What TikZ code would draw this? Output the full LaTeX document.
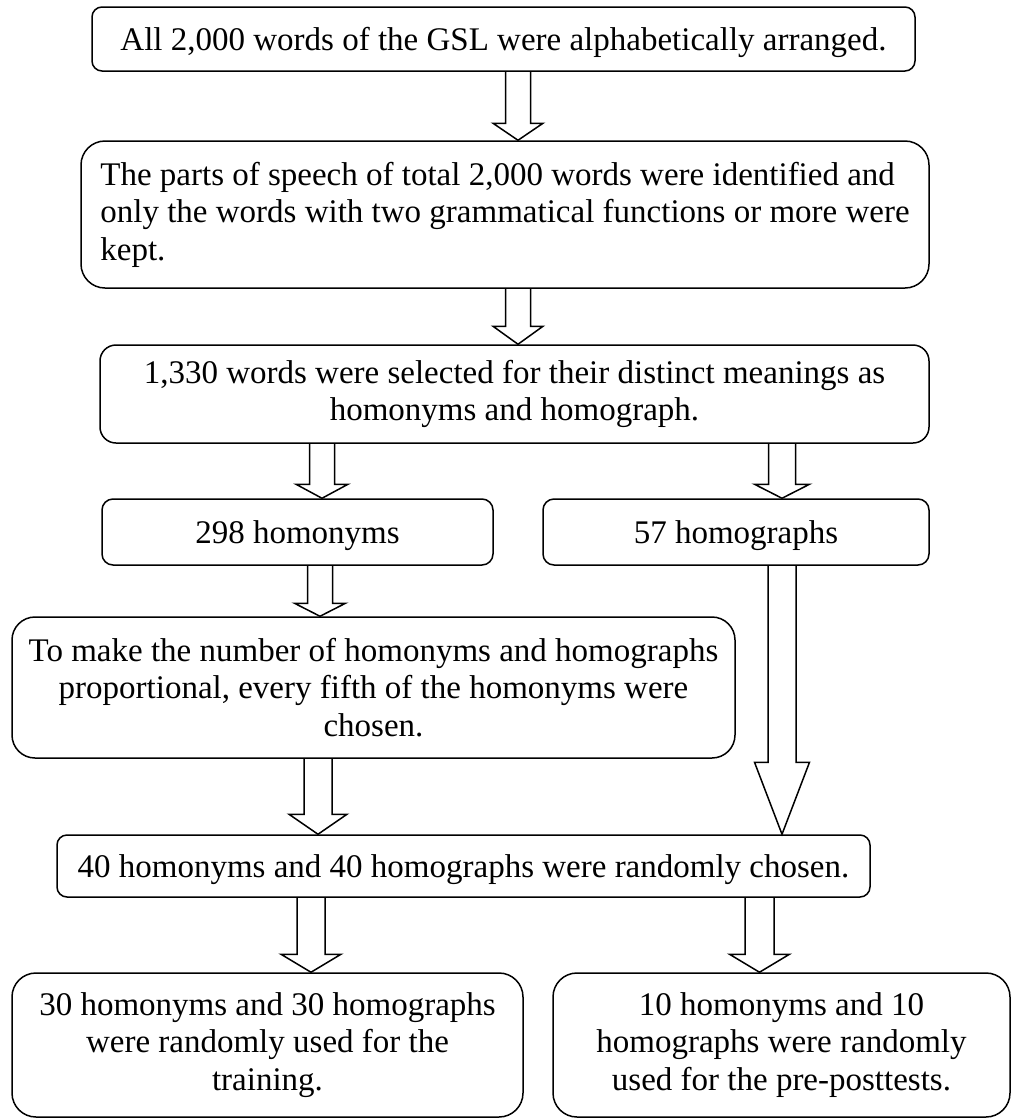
\documentclass[tikz,border=0pt]{standalone}
\usepackage{fontspec}
\setmainfont{Liberation Serif}
\usetikzlibrary{calc}
\tikzset{
  box/.style={draw, line width=1.5pt, inner sep=0pt, align=center,
    font=\fontsize{33}{37.5}\selectfont},
  oneline/.style={text depth=0pt},
  blockarrow/.style={draw, line width=1.5pt, line join=miter},
}
% #1 from node, #2 to node, #3 x centre, #4 shaft half width, #5 head half width, #6 head length
\newcommand\blkarrow[6]{%
  \draw[blockarrow] let \p1=(#1.south), \p2=(#2.north) in
    ({#3pt-#4pt},\y1) -- ({#3pt-#4pt},{\y2+#6pt}) -- ({#3pt-#5pt},{\y2+#6pt})
    -- ({#3pt},\y2) -- ({#3pt+#5pt},{\y2+#6pt}) -- ({#3pt+#4pt},{\y2+#6pt})
    -- ({#3pt+#4pt},\y1);}
\begin{document}
\begin{tikzpicture}[x=1pt,y=-1pt]
\useasboundingbox (0,0) rectangle (1013,1120);
\node[box, oneline, rounded corners=10pt, minimum width=823pt, minimum height=64pt] (b1) at (503.5,39)
  {All 2,000 words of the GSL were alphabetically arranged.};
\node[box, align=left, rounded corners=24pt, minimum width=848pt, minimum height=147pt] (b2) at (505,214.5)
  {The parts of speech of total 2,000 words were identified and\\only the words with two grammatical functions or more were\\kept.};
\node[box, rounded corners=16pt, minimum width=829pt, minimum height=98pt] (b3) at (514.5,394)
  {1,330 words were selected for their distinct meanings as\\homonyms and homograph.};
\node[box, oneline, rounded corners=11pt, minimum width=391pt, minimum height=66pt] (b4) at (297.5,532)
  {298 homonyms};
\node[box, oneline, rounded corners=11pt, minimum width=386pt, minimum height=66pt] (b5) at (736,532)
  {57 homographs};
\node[box, rounded corners=23pt, minimum width=723pt, minimum height=141pt] (b6) at (373.5,687.5)
  {To make the number of homonyms and homographs\\proportional, every fifth of the homonyms were\\chosen.};
\node[box, oneline, rounded corners=10pt, minimum width=813pt, minimum height=62pt] (b7) at (463.5,866)
  {40 homonyms and 40 homographs were randomly chosen.};
\node[box, rounded corners=24pt, minimum width=511pt, minimum height=144pt] (b8) at (267.5,1045)
  {30 homonyms and 30 homographs\\were randomly used for the\\training.};
\node[box, rounded corners=24pt, minimum width=457pt, minimum height=144pt] (b9) at (781.5,1045)
  {10 homonyms and 10\\homographs were randomly\\used for the pre-posttests.};
\blkarrow{b1}{b2}{518}{12.5}{25}{17}
\blkarrow{b2}{b3}{518}{12.5}{25}{18}
\blkarrow{b3}{b4}{322}{12.5}{26}{14}
\blkarrow{b3}{b5}{782}{13.5}{27.5}{14}
\blkarrow{b4}{b6}{320}{12.5}{25.5}{13}
\blkarrow{b5}{b7}{782}{14}{27.5}{72}
\blkarrow{b6}{b7}{318}{14}{29}{20}
\blkarrow{b7}{b8}{311}{14}{30}{18}
\blkarrow{b7}{b9}{759.5}{14.5}{30}{18}
\end{tikzpicture}
\end{document}
